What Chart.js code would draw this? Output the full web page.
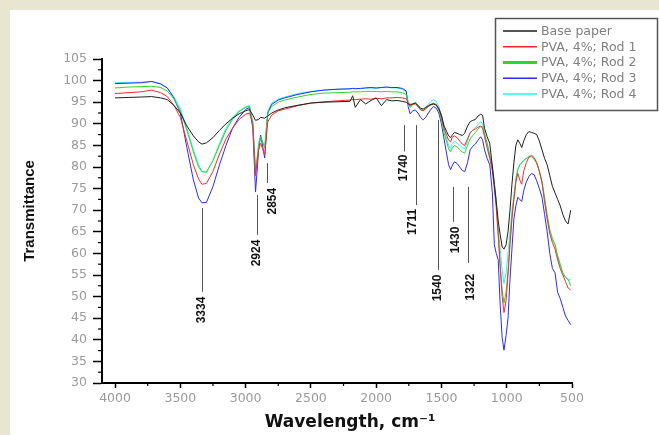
<!DOCTYPE html>
<html>
<head>
<meta charset="utf-8">
<script src="https://cdn.jsdelivr.net/npm/chart.js@4.4.1/dist/chart.umd.min.js"></script>
<style>
  html, body { margin: 0; padding: 0; }
  body { width: 659px; height: 435px; background: #e8e6d0; position: relative; overflow: hidden; }
  #panel { position: absolute; left: 10px; top: 10px; width: 649px; height: 425px; background: #fff; }
  #wrap { position: absolute; left: 0; top: 0; width: 659px; height: 435px; }
</style>
</head>
<body>
<div id="panel"></div>
<div id="wrap"><canvas id="ftir" width="659" height="435"></canvas></div>
<script>
// Wavenumbers (cm-1) shared by all spectra
const wavenumbers = [
  4000, 3900, 3800, 3720, 3650, 3600, 3550, 3500, 3450, 3400,
  3360, 3334, 3300, 3250, 3200, 3150, 3100, 3050, 3000, 2970,
  2945, 2924, 2900, 2885, 2854, 2830, 2800, 2750, 2700, 2600,
  2500, 2400, 2300, 2200, 2180, 2160, 2120, 2080, 2040, 2000,
  1960, 1920, 1880, 1840, 1800, 1770, 1755, 1740, 1720, 1700,
  1680, 1660, 1640, 1620, 1600, 1580, 1560, 1540, 1520, 1500,
  1480, 1460, 1445, 1430, 1415, 1400, 1380, 1360, 1340, 1322,
  1300, 1280, 1260, 1240, 1220, 1200, 1185, 1170, 1150, 1130,
  1110, 1095, 1080, 1065, 1050, 1035, 1021, 1005, 990, 975,
  960, 945, 930, 915, 900, 885, 870, 850, 830, 810,
  790, 770, 750, 730, 710, 690, 670, 650, 630, 610,
  590, 570, 550, 530, 510
];

const xTickValues = [4000, 3500, 3000, 2500, 2000, 1500, 1000, 500];

const seriesNames = ['Base paper', 'PVA, 4%; Rod 1', 'PVA, 4%; Rod 2', 'PVA, 4%; Rod 3', 'PVA, 4%; Rod 4'];

const basePaper = [
  96.0, 96.1, 96.2, 96.3, 96.0, 95.6, 94.3, 92.5, 89.5, 87.2,
  85.8, 85.3, 85.6, 86.8, 88.5, 90.0, 91.3, 92.3, 93.0, 93.3,
  92.0, 90.8, 91.0, 91.5, 91.3, 91.8, 92.5, 93.2, 93.7, 94.3,
  94.8, 95.0, 95.1, 95.2, 96.5, 93.8, 95.6, 94.6, 95.4, 96.0,
  94.2, 95.6, 95.3, 95.4, 95.2, 95.0, 94.6, 94.5, 94.6, 94.8,
  94.3, 93.6, 93.4, 93.8, 94.2, 94.5, 94.6, 94.3, 93.5, 92.0,
  89.5, 88.2, 87.2, 86.8, 87.5, 88.0, 87.8, 87.5, 87.3, 87.8,
  89.5, 90.5, 90.8, 91.0, 91.8, 92.2, 92.0, 89.0, 87.0, 85.5,
  80.0, 76.0, 72.0, 67.5, 64.3, 61.5, 61.0, 62.0, 65.0, 70.0,
  76.0, 81.0, 85.0, 86.3, 85.5, 84.5, 86.0, 87.5, 88.2, 88.0,
  87.8, 87.5, 86.0, 84.0, 82.0, 80.5, 78.0, 75.5, 74.0, 72.5,
  71.0, 69.0, 67.5, 66.8, 70.0
];

const rod1 = [
  97.0, 97.2, 97.4, 97.8, 97.2, 96.3, 94.3, 91.5, 86.0, 80.5,
  77.2, 76.0, 76.2, 79.0, 83.0, 86.5, 89.0, 91.0, 92.2, 92.5,
  90.0, 78.0, 84.0, 85.5, 82.8, 90.5, 92.0, 93.0, 93.4, 94.2,
  94.8, 95.1, 95.3, 95.5, 95.6, 95.6, 95.7, 95.8, 95.7, 95.9,
  95.8, 96.0, 96.0, 96.1, 96.0, 95.8, 94.8, 94.2, 94.5, 94.6,
  94.0, 93.3, 93.0, 93.5, 94.0, 94.4, 94.6, 94.5, 93.5, 91.5,
  89.0, 87.3, 86.2, 85.8, 87.0, 87.2, 86.8, 86.0, 85.3, 85.0,
  86.5, 88.0, 88.5, 88.8, 89.2, 89.5, 89.0, 87.0, 84.5, 82.0,
  79.0, 75.0, 70.5, 64.0, 57.0, 50.0, 46.3, 49.0, 55.0, 62.0,
  68.0, 72.5, 76.5, 78.5, 77.0, 76.0, 79.0, 81.0, 82.3, 82.7,
  82.2, 81.0, 79.0, 76.5, 72.0, 68.0, 64.5, 62.5, 61.0, 58.5,
  56.5, 55.0, 53.5, 52.0, 51.5
];

const rod2 = [
  98.3, 98.5, 98.6, 98.7, 98.4, 97.6, 95.8, 93.0, 88.5, 83.5,
  80.0, 78.9, 78.8, 81.5, 85.0, 88.5, 91.0, 92.8, 93.8, 94.0,
  90.0, 78.6, 85.0, 87.0, 84.5, 92.5, 94.0, 95.0, 95.5, 96.2,
  96.8, 97.1, 97.2, 97.3, 97.4, 97.4, 97.4, 97.5, 97.5, 97.5,
  97.4, 97.5, 97.4, 97.4, 97.2, 96.8, 95.0, 93.8, 94.4, 94.8,
  94.0, 93.2, 93.0, 93.5, 94.0, 94.5, 94.8, 94.4, 93.0, 91.0,
  88.0, 85.8, 84.2, 83.5, 84.5, 85.0, 84.7, 84.0, 83.5, 83.2,
  85.0, 86.5, 87.3, 88.0, 88.8, 89.3, 89.3, 87.5, 85.5, 82.5,
  80.0, 76.0, 71.5, 64.5, 57.0, 51.5, 48.5, 51.0, 56.0, 62.5,
  68.5, 72.5, 77.0, 79.5, 80.5, 81.0, 81.5, 82.0, 82.3, 82.4,
  81.8, 80.8, 79.0, 76.5, 73.0, 69.0, 65.5, 63.5, 62.0, 59.5,
  57.5, 55.5, 54.5, 54.0, 52.5
];

const rod3 = [
  99.3, 99.4, 99.5, 99.8, 99.2, 98.3, 96.0, 92.5, 84.5, 77.0,
  72.8, 71.7, 71.8, 75.5, 80.5, 85.0, 89.0, 91.5, 93.3, 93.8,
  89.0, 74.2, 84.0, 87.4, 82.1, 92.5, 94.5, 95.5, 96.0, 96.8,
  97.4, 97.8, 98.0, 98.1, 98.2, 98.1, 98.2, 98.3, 98.4, 98.3,
  98.4, 98.5, 98.4, 98.4, 98.2, 97.6, 94.0, 92.3, 93.0, 93.2,
  92.5, 91.5, 90.9, 91.5, 92.5, 93.4, 94.0, 93.6, 92.5, 90.0,
  86.5, 83.0, 80.5, 79.4, 80.5, 81.2, 80.8, 80.0, 79.2, 78.9,
  81.0, 84.0, 84.8, 85.3, 86.2, 87.0, 86.3, 84.0, 82.0, 80.5,
  74.0, 62.0, 60.0, 58.5, 48.0, 40.5, 37.6, 41.0, 45.0, 54.0,
  61.0, 68.0, 71.0, 73.0, 72.5, 72.0, 74.5, 76.5, 77.8, 78.5,
  78.2, 76.8, 75.0, 73.0, 69.0, 65.0, 60.0, 56.5, 55.5, 51.0,
  49.5, 47.5, 45.5, 44.5, 43.5
];

const rod4 = [
  99.5, 99.6, 99.6, 99.8, 99.3, 98.3, 96.3, 93.5, 89.0, 84.0,
  80.5, 79.0, 78.8, 81.5, 85.5, 89.0, 91.5, 93.0, 94.0, 94.2,
  90.5, 79.0, 85.5, 87.0, 84.5, 93.0, 94.8, 95.7, 96.2, 97.0,
  97.5, 97.8, 98.0, 98.1, 98.2, 98.2, 98.1, 98.3, 98.3, 98.2,
  98.4, 98.5, 98.3, 98.3, 98.0, 97.4, 95.2, 94.0, 94.6, 95.0,
  94.3, 93.5, 93.3, 93.8, 94.5, 95.2, 95.6, 95.2, 94.0, 92.0,
  89.0, 86.5, 85.0, 84.3, 85.5, 86.0, 85.5, 85.0, 84.5, 84.2,
  86.0, 87.8, 88.5, 89.0, 89.8, 90.5, 90.0, 88.0, 85.5, 83.0,
  80.5, 76.5, 72.0, 66.0, 61.0, 56.0, 53.0, 55.5, 60.0, 65.0,
  70.0, 73.5, 77.5, 79.5, 80.5, 81.0, 81.5, 82.0, 82.5, 82.5,
  82.0, 81.0, 79.0, 76.5, 72.0, 68.0, 65.0, 63.0, 62.0, 59.0,
  57.0, 55.0, 54.5, 53.8, 54.0
];

const seriesColors = ['#1e1e1e', '#ff2a2a', '#2bd82b', '#2a2aff', '#2ef0f0'];

// Band assignments drawn as vertical marker lines with rotated labels (data units)
const peakMarks = [
  { text: '3334', lineX: 3334, from: 70.5, to: 51.1, labelX: 3334, labelY: 46.9 },
  { text: '2924', lineX: 2912, from: 73.5, to: 64.3, labelX: 2912, labelY: 60.1 },
  { text: '2854', lineX: 2836, from: 80.9, to: 76.3, labelX: 2790, labelY: 72.1 },
  { text: '1740', lineX: 1787, from: 89.7, to: 83.6, labelX: 1787, labelY: 79.8 },
  { text: '1711', lineX: 1695, from: 89.7, to: 71.2, labelX: 1718, labelY: 67.3 },
  { text: '1540', lineX: 1526, from: 90.9, to: 56.2, labelX: 1526, labelY: 52.0 },
  { text: '1430', lineX: 1411, from: 75.4, to: 67.3, labelX: 1388, labelY: 63.1 },
  { text: '1322', lineX: 1296, from: 75.4, to: 57.8, labelX: 1273, labelY: 52.2 }
];

const allSeries = [basePaper, rod1, rod2, rod3, rod4];

const datasets = allSeries.map((values, i) => ({
  label: seriesNames[i],
  data: wavenumbers.map((w, j) => ({ x: w, y: values[j] })),
  borderColor: seriesColors[i],
  borderWidth: 1,
  pointRadius: 0,
  tension: 0,
  fill: false
}));

// minor ticks on both axes
const minorTicks = {
  id: 'minorTicks',
  afterDraw(chart) {
    const { ctx, chartArea, scales } = chart;
    ctx.save();
    ctx.strokeStyle = '#000';
    ctx.lineWidth = 1.2;
    for (let v = 750; v < 4100; v += 500) {
      const x = scales.x.getPixelForValue(v);
      ctx.beginPath();
      ctx.moveTo(x, chartArea.bottom);
      ctx.lineTo(x, chartArea.bottom + 3);
      ctx.stroke();
    }
    for (let v = 32.5; v < 105; v += 5) {
      const y = scales.y.getPixelForValue(v);
      ctx.beginPath();
      ctx.moveTo(chartArea.left - 4, y);
      ctx.lineTo(chartArea.left, y);
      ctx.stroke();
    }
    ctx.restore();
  }
};

// vertical band markers
const bandMarks = {
  id: 'bandMarks',
  afterDatasetsDraw(chart) {
    const { ctx, scales } = chart;
    ctx.save();
    ctx.strokeStyle = '#555';
    ctx.lineWidth = 1;
    ctx.fillStyle = '#111';
    ctx.font = 'bold 12px "Liberation Sans", Arial, sans-serif';
    ctx.textAlign = 'center';
    ctx.textBaseline = 'middle';
    peakMarks.forEach(m => {
      const x = Math.round(scales.x.getPixelForValue(m.lineX)) + 0.5;
      ctx.beginPath();
      ctx.moveTo(x, scales.y.getPixelForValue(m.from));
      ctx.lineTo(x, scales.y.getPixelForValue(m.to));
      ctx.stroke();
      ctx.save();
      ctx.translate(scales.x.getPixelForValue(m.labelX), scales.y.getPixelForValue(m.labelY));
      ctx.rotate(-Math.PI / 2);
      ctx.fillText(m.text, 0, 0);
      ctx.restore();
    });
    ctx.restore();
  }
};

// boxed legend in the top right corner
const boxLegend = {
  id: 'boxLegend',
  afterDraw(chart) {
    const ctx = chart.ctx;
    ctx.save();
    ctx.strokeStyle = '#555';
    ctx.lineWidth = 1.5;
    ctx.strokeRect(495.5, 18.5, 162, 92);
    ctx.font = '12.5px "DejaVu Sans", sans-serif';
    ctx.fillStyle = '#808080';
    ctx.textBaseline = 'middle';
    chart.data.datasets.forEach((ds, i) => {
      const y = 31 + i * 15.75;
      ctx.strokeStyle = ds.borderColor;
      ctx.lineWidth = i === 2 ? 3 : 1.5;
      ctx.beginPath();
      ctx.moveTo(503, y);
      ctx.lineTo(537, y);
      ctx.stroke();
      ctx.fillText(ds.label, 541, y + 0.5);
    });
    ctx.restore();
  }
};

// axis titles
const axisTitles = {
  id: 'axisTitles',
  afterDraw(chart) {
    const ctx = chart.ctx;
    ctx.save();
    ctx.fillStyle = '#111';
    ctx.textAlign = 'center';
    ctx.textBaseline = 'middle';
    ctx.font = 'bold 17px "DejaVu Sans", sans-serif';
    ctx.fillText('Wavelength, cm⁻¹', 350, 423);
    ctx.translate(30, 211);
    ctx.rotate(-Math.PI / 2);
    ctx.font = 'bold 15px "Liberation Sans", Arial, sans-serif';
    ctx.fillText('Transmittance', 0, 0);
    ctx.restore();
  }
};

const tickFont = { family: '"DejaVu Sans", sans-serif', size: 12.5 };

new Chart(document.getElementById('ftir'), {
  type: 'line',
  data: { datasets: datasets },
  options: {
    responsive: false,
    animation: false,
    layout: { padding: { left: 0, top: 59, right: 87, bottom: 0 } },
    plugins: {
      legend: { display: false },
      tooltip: { enabled: false }
    },
    scales: {
      x: {
        type: 'linear',
        reverse: true,
        min: 500,
        max: 4100,
        afterBuildTicks: scale => { scale.ticks = xTickValues.map(v => ({ value: v })); },
        afterFit: scale => { scale.height = 52; },
        border: { display: true, color: '#000', width: 2 },
        grid: { drawOnChartArea: false, drawTicks: true, tickLength: 5, tickColor: '#000', tickWidth: 1.5 },
        ticks: {
          autoSkip: false,
          maxRotation: 0,
          padding: 3,
          color: '#9a9a9a',
          font: tickFont,
          callback: v => String(v)
        }
      },
      y: {
        min: 30,
        max: 105,
        afterFit: scale => { scale.width = 102; },
        border: { display: true, color: '#000', width: 2 },
        grid: { drawOnChartArea: false, drawTicks: true, tickLength: 9, tickColor: '#000', tickWidth: 1.5 },
        ticks: {
          stepSize: 5,
          padding: 6,
          color: '#9a9a9a',
          font: tickFont
        }
      }
    }
  },
  plugins: [minorTicks, bandMarks, boxLegend, axisTitles]
});
</script>
</body>
</html>
